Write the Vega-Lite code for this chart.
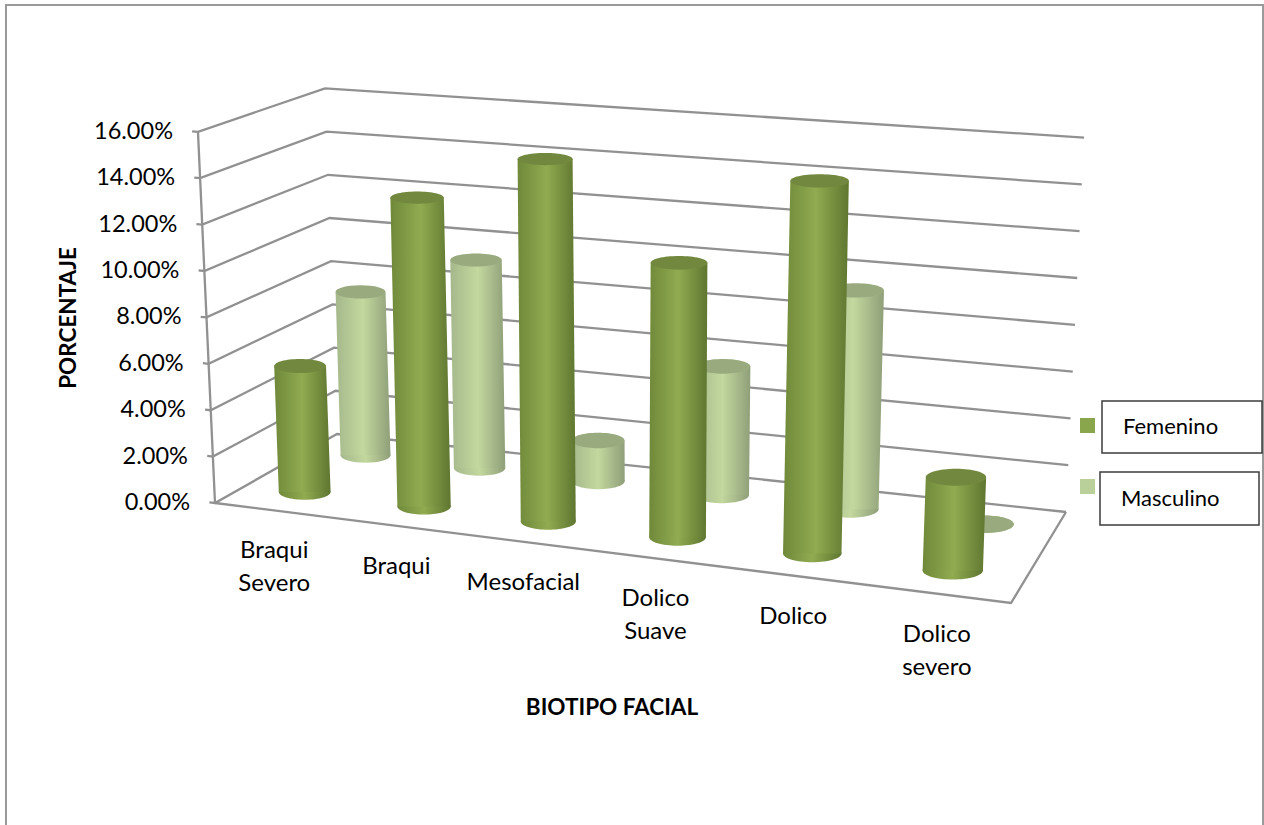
{
  "$schema": "https://vega.github.io/schema/vega-lite/v6.json",
  "width": 1264,
  "height": 825,
  "padding": 0,
  "autosize": {"type": "none"},
  "background": "white",
  "config": {"view": {"stroke": null}, "font": "Lato"},
  "data": {"values": [
    {"capa": "cilindro", "biotipo": "Braqui Severo", "sexo": "Femenino", "valor": 5.5},
    {"capa": "cilindro", "biotipo": "Braqui", "sexo": "Femenino", "valor": 13.3},
    {"capa": "cilindro", "biotipo": "Mesofacial", "sexo": "Femenino", "valor": 15.4},
    {"capa": "cilindro", "biotipo": "Dolico Suave", "sexo": "Femenino", "valor": 11.5},
    {"capa": "cilindro", "biotipo": "Dolico", "sexo": "Femenino", "valor": 15.4},
    {"capa": "cilindro", "biotipo": "Dolico severo", "sexo": "Femenino", "valor": 3.8},
    {"capa": "cilindro", "biotipo": "Braqui Severo", "sexo": "Masculino", "valor": 7.4},
    {"capa": "cilindro", "biotipo": "Braqui", "sexo": "Masculino", "valor": 9.3},
    {"capa": "cilindro", "biotipo": "Mesofacial", "sexo": "Masculino", "valor": 1.8},
    {"capa": "cilindro", "biotipo": "Dolico Suave", "sexo": "Masculino", "valor": 5.6},
    {"capa": "cilindro", "biotipo": "Dolico", "sexo": "Masculino", "valor": 9.4},
    {"capa": "cilindro", "biotipo": "Dolico severo", "sexo": "Masculino", "valor": 0},
    {"capa": "categoria", "biotipo": "Braqui Severo"},
    {"capa": "categoria", "biotipo": "Braqui"},
    {"capa": "categoria", "biotipo": "Mesofacial"},
    {"capa": "categoria", "biotipo": "Dolico Suave"},
    {"capa": "categoria", "biotipo": "Dolico"},
    {"capa": "categoria", "biotipo": "Dolico severo"},
    {"capa": "rejilla", "esquina": "marca", "valor": 0},
    {"capa": "rejilla", "esquina": "frente", "valor": 0},
    {"capa": "rejilla", "esquina": "fondo", "valor": 0},
    {"capa": "rejilla", "esquina": "derecha", "valor": 0},
    {"capa": "rejilla", "esquina": "marca", "valor": 2},
    {"capa": "rejilla", "esquina": "frente", "valor": 2},
    {"capa": "rejilla", "esquina": "fondo", "valor": 2},
    {"capa": "rejilla", "esquina": "derecha", "valor": 2},
    {"capa": "rejilla", "esquina": "marca", "valor": 4},
    {"capa": "rejilla", "esquina": "frente", "valor": 4},
    {"capa": "rejilla", "esquina": "fondo", "valor": 4},
    {"capa": "rejilla", "esquina": "derecha", "valor": 4},
    {"capa": "rejilla", "esquina": "marca", "valor": 6},
    {"capa": "rejilla", "esquina": "frente", "valor": 6},
    {"capa": "rejilla", "esquina": "fondo", "valor": 6},
    {"capa": "rejilla", "esquina": "derecha", "valor": 6},
    {"capa": "rejilla", "esquina": "marca", "valor": 8},
    {"capa": "rejilla", "esquina": "frente", "valor": 8},
    {"capa": "rejilla", "esquina": "fondo", "valor": 8},
    {"capa": "rejilla", "esquina": "derecha", "valor": 8},
    {"capa": "rejilla", "esquina": "marca", "valor": 10},
    {"capa": "rejilla", "esquina": "frente", "valor": 10},
    {"capa": "rejilla", "esquina": "fondo", "valor": 10},
    {"capa": "rejilla", "esquina": "derecha", "valor": 10},
    {"capa": "rejilla", "esquina": "marca", "valor": 12},
    {"capa": "rejilla", "esquina": "frente", "valor": 12},
    {"capa": "rejilla", "esquina": "fondo", "valor": 12},
    {"capa": "rejilla", "esquina": "derecha", "valor": 12},
    {"capa": "rejilla", "esquina": "marca", "valor": 14},
    {"capa": "rejilla", "esquina": "frente", "valor": 14},
    {"capa": "rejilla", "esquina": "fondo", "valor": 14},
    {"capa": "rejilla", "esquina": "derecha", "valor": 14},
    {"capa": "rejilla", "esquina": "marca", "valor": 16},
    {"capa": "rejilla", "esquina": "frente", "valor": 16},
    {"capa": "rejilla", "esquina": "fondo", "valor": 16},
    {"capa": "rejilla", "esquina": "derecha", "valor": 16},
    {"capa": "suelo", "esquina": "frente", "valor": 0},
    {"capa": "suelo", "esquina": "delantera", "valor": 0},
    {"capa": "suelo", "esquina": "derecha", "valor": 0},
    {"capa": "eje", "esquina": "frente", "valor": 0},
    {"capa": "eje", "esquina": "frente", "valor": 16},
    {"capa": "caja", "sexo": "Femenino"},
    {"capa": "caja", "sexo": "Masculino"},
    {"capa": "tituloX", "rotulo": "BIOTIPO FACIAL"},
    {"capa": "tituloY", "rotulo": "PORCENTAJE"},
    {"capa": "marco"}
  ]},
  "transform": [
    {"calculate": "0", "as": "cero"},
    {"fold": ["cero", "valor"], "as": ["extremo", "h"]},
    {"filter": "datum.capa === 'cilindro' || datum.extremo === 'valor'"},
    {"calculate": "datum.h || 0", "as": "h"},
    {"calculate": "datum.capa === 'rejilla' ? datum.h : 0", "as": "linea"},
    {"calculate": "indexof(['Braqui Severo','Braqui','Mesofacial','Dolico Suave','Dolico','Dolico severo'], datum.biotipo)", "as": "i"},
    {"calculate": "datum.i >= 0 ? (datum.i + 0.5) / 6 : datum.esquina === 'marca' ? -0.008 : (datum.esquina === 'delantera' || datum.esquina === 'derecha') ? 1 : 0", "as": "u"},
    {"calculate": "datum.capa === 'cilindro' ? (datum.sexo === 'Femenino' ? 0.26 : 0.78) : (datum.esquina === 'fondo' || datum.esquina === 'derecha') ? 1 : 0", "as": "v"},
    {"calculate": "datum.u / (1 + 0.13 * (1 - datum.u))", "as": "t"},
    {"calculate": "(1 - datum.v) * (215 + 796 * datum.t) + datum.v * (337 + 729 * datum.t)", "as": "fx"},
    {"calculate": "(1 - datum.v) * (503 + 100 * datum.t) + datum.v * (434 + 78 * datum.t)", "as": "fy"},
    {"calculate": "(1 - datum.v) * (23.2 + 2 * datum.t) + datum.v * (21.6 + 1.8 * datum.t)", "as": "k"},
    {"calculate": "datum.fx + (datum.fx - 628) / 388 * datum.h", "as": "px"},
    {"calculate": "datum.fy - datum.k * datum.h", "as": "py"},
    {"calculate": "26 * (1 + 0.2 * datum.t) * (1 - 0.07 * datum.v)", "as": "r"},
    {"calculate": "datum.px - datum.r", "as": "xl"},
    {"calculate": "datum.px + datum.r", "as": "xr"},
    {"calculate": "4 * datum.r * datum.r", "as": "tam"},
    {"calculate": "'M-1,0A1,' + (0.3 - 0.005 * datum.h) + ' 0 1 0 1,0A1,' + (0.3 - 0.005 * datum.h) + ' 0 1 0 -1,0Z'", "as": "forma"},
    {"calculate": "indexof(['marca','frente','fondo','delantera','derecha'], datum.esquina) + datum.h / 100", "as": "orden"},
    {"calculate": "format(datum.h / 100, '.2%')", "as": "marcaTexto"},
    {"calculate": "replace(datum.biotipo, ' ', '\\n')", "as": "nombre"},
    {"calculate": "datum.capa === 'marco' ? 6 : datum.sexo === 'Femenino' ? 1102 : 1100", "as": "cajaX"},
    {"calculate": "datum.capa === 'marco' ? 1263 : datum.sexo === 'Femenino' ? 1262 : 1259", "as": "cajaX2"},
    {"calculate": "datum.capa === 'marco' ? 5 : datum.sexo === 'Femenino' ? 401 : 472", "as": "cajaY"},
    {"calculate": "datum.capa === 'marco' ? 835 : datum.sexo === 'Femenino' ? 453 : 525", "as": "cajaY2"},
    {"calculate": "datum.capa === 'tituloX' ? 612 : datum.capa === 'tituloY' ? 69 : datum.cajaX + 21", "as": "textoX"},
    {"calculate": "datum.capa === 'tituloX' ? 708 : datum.capa === 'tituloY' ? 318 : (datum.cajaY + datum.cajaY2) / 2", "as": "textoY"}
  ],
  "encoding": {
    "x": {"field": "px", "type": "quantitative", "scale": {"domain": [0, 1264], "nice": false, "zero": false}, "axis": null},
    "y": {"field": "py", "type": "quantitative", "scale": {"domain": [825, 0], "nice": false, "zero": false}, "axis": null}
  },
  "layer": [
    {
      "transform": [{"filter": "datum.capa === 'marco'"}],
      "mark": {"type": "rect", "fill": null, "stroke": "#9a9a9a", "strokeWidth": 2},
      "encoding": {
        "x": {"field": "cajaX", "type": "quantitative", "axis": null},
        "x2": {"field": "cajaX2"},
        "y": {"field": "cajaY", "type": "quantitative", "axis": null},
        "y2": {"field": "cajaY2"}
      }
    },
    {
      "transform": [{"filter": "datum.capa === 'rejilla' || datum.capa === 'suelo' || datum.capa === 'eje'"}],
      "mark": {"type": "line", "stroke": "#919191", "strokeWidth": 2.3, "strokeJoin": "miter"},
      "encoding": {
        "detail": [{"field": "capa"}, {"field": "linea"}],
        "order": {"field": "orden", "type": "quantitative"}
      }
    },
    {
      "transform": [{"filter": "datum.capa === 'rejilla' && datum.esquina === 'frente'"}],
      "mark": {"type": "text", "align": "right", "baseline": "middle", "dx": -25, "fontSize": 23.5, "font": "Lato", "fill": "#000000"},
      "encoding": {"text": {"field": "marcaTexto"}}
    },
    {
      "transform": [{"filter": "datum.capa === 'categoria'"}],
      "mark": {"type": "text", "align": "center", "baseline": "top", "dy": 29, "fontSize": 24, "font": "Lato", "fill": "#000000", "lineBreak": "\n", "lineHeight": 33},
      "encoding": {"text": {"field": "nombre"}}
    },
    {
      "transform": [{"filter": "datum.capa === 'tituloX'"}],
      "mark": {"type": "text", "align": "center", "baseline": "middle", "fontSize": 22.5, "fontWeight": "bold", "font": "Lato", "fill": "#000000"},
      "encoding": {
        "x": {"field": "textoX", "type": "quantitative", "axis": null},
        "y": {"field": "textoY", "type": "quantitative", "axis": null},
        "text": {"field": "rotulo"}
      }
    },
    {
      "transform": [{"filter": "datum.capa === 'tituloY'"}],
      "mark": {"type": "text", "align": "center", "baseline": "middle", "angle": 270, "fontSize": 22.5, "fontWeight": "bold", "font": "Lato", "fill": "#000000"},
      "encoding": {
        "x": {"field": "textoX", "type": "quantitative", "axis": null},
        "y": {"field": "textoY", "type": "quantitative", "axis": null},
        "text": {"field": "rotulo"}
      }
    },
    {
      "transform": [{"filter": "datum.capa === 'caja'"}],
      "mark": {"type": "rect", "fill": null, "stroke": "#3c3c3c", "strokeWidth": 1.5},
      "encoding": {
        "x": {"field": "cajaX", "type": "quantitative", "axis": null},
        "x2": {"field": "cajaX2"},
        "y": {"field": "cajaY", "type": "quantitative", "axis": null},
        "y2": {"field": "cajaY2"}
      }
    },
    {
      "transform": [{"filter": "datum.capa === 'caja'"}],
      "mark": {"type": "text", "align": "left", "baseline": "middle", "fontSize": 22, "font": "Lato", "fill": "#000000"},
      "encoding": {
        "x": {"field": "textoX", "type": "quantitative", "axis": null},
        "y": {"field": "textoY", "type": "quantitative", "axis": null},
        "text": {"field": "sexo"}
      }
    },
    {
      "transform": [{"filter": "datum.capa === 'cilindro' && datum.sexo === 'Masculino' && datum.extremo === 'cero'"}],
      "mark": {"type": "point", "filled": true, "opacity": 1, "fill": {"gradient": "linear", "x1": 0, "x2": 1, "y1": 0, "y2": 0, "stops": [{"offset": 0, "color": "#a5b88c"}, {"offset": 0.5, "color": "#c3d89e"}, {"offset": 1, "color": "#8f9f79"}]}},
      "encoding": {
        "size": {"field": "tam", "type": "quantitative", "scale": null},
        "shape": {"field": "forma", "type": "nominal", "scale": null}
      }
    },
    {
      "transform": [{"filter": "datum.capa === 'cilindro' && datum.sexo === 'Masculino'"}],
      "mark": {"type": "area", "orient": "horizontal", "fill": {"gradient": "linear", "x1": 0, "x2": 1, "y1": 0, "y2": 0, "stops": [{"offset": 0, "color": "#a5b88c"}, {"offset": 0.5, "color": "#c3d89e"}, {"offset": 1, "color": "#8f9f79"}]}},
      "encoding": {
        "x": {"field": "xl", "type": "quantitative", "axis": null},
        "x2": {"field": "xr"},
        "detail": {"field": "biotipo"}
      }
    },
    {
      "transform": [{"filter": "datum.capa === 'cilindro' && datum.sexo === 'Masculino' && datum.extremo === 'valor'"}],
      "mark": {"type": "point", "filled": true, "opacity": 1},
      "encoding": {
        "size": {"field": "tam", "type": "quantitative", "scale": null},
        "shape": {"field": "forma", "type": "nominal", "scale": null},
        "color": {
          "field": "sexo", "type": "nominal",
          "scale": {"domain": ["Femenino", "Masculino"], "range": ["#8aa64c", "#bad09a"]},
          "legend": {"title": null, "orient": "none", "legendX": 1080, "legendY": 418, "symbolType": "square", "symbolSize": 225, "symbolStrokeWidth": 0, "labelExpr": "''", "labelFontSize": 1, "rowPadding": 46, "padding": 0, "symbolOpacity": 1}
        }
      }
    },
    {
      "transform": [{"filter": "datum.capa === 'cilindro' && datum.sexo === 'Masculino' && datum.extremo === 'valor'"}],
      "mark": {"type": "point", "filled": true, "fill": "#000000", "opacity": 0.18},
      "encoding": {
        "size": {"field": "tam", "type": "quantitative", "scale": null},
        "shape": {"field": "forma", "type": "nominal", "scale": null}
      }
    },
    {
      "transform": [{"filter": "datum.capa === 'cilindro' && datum.sexo === 'Femenino' && datum.extremo === 'cero'"}],
      "mark": {"type": "point", "filled": true, "opacity": 1, "fill": {"gradient": "linear", "x1": 0, "x2": 1, "y1": 0, "y2": 0, "stops": [{"offset": 0, "color": "#6f893a"}, {"offset": 0.5, "color": "#90ab50"}, {"offset": 1, "color": "#5f7630"}]}},
      "encoding": {
        "size": {"field": "tam", "type": "quantitative", "scale": null},
        "shape": {"field": "forma", "type": "nominal", "scale": null}
      }
    },
    {
      "transform": [{"filter": "datum.capa === 'cilindro' && datum.sexo === 'Femenino'"}],
      "mark": {"type": "area", "orient": "horizontal", "fill": {"gradient": "linear", "x1": 0, "x2": 1, "y1": 0, "y2": 0, "stops": [{"offset": 0, "color": "#6f893a"}, {"offset": 0.5, "color": "#90ab50"}, {"offset": 1, "color": "#5f7630"}]}},
      "encoding": {
        "x": {"field": "xl", "type": "quantitative", "axis": null},
        "x2": {"field": "xr"},
        "detail": {"field": "biotipo"}
      }
    },
    {
      "transform": [{"filter": "datum.capa === 'cilindro' && datum.sexo === 'Femenino' && datum.extremo === 'valor'"}],
      "mark": {"type": "point", "filled": true, "opacity": 1},
      "encoding": {
        "size": {"field": "tam", "type": "quantitative", "scale": null},
        "shape": {"field": "forma", "type": "nominal", "scale": null},
        "color": {"field": "sexo", "type": "nominal"}
      }
    },
    {
      "transform": [{"filter": "datum.capa === 'cilindro' && datum.sexo === 'Femenino' && datum.extremo === 'valor'"}],
      "mark": {"type": "point", "filled": true, "fill": "#000000", "opacity": 0.18},
      "encoding": {
        "size": {"field": "tam", "type": "quantitative", "scale": null},
        "shape": {"field": "forma", "type": "nominal", "scale": null}
      }
    }
  ]
}
